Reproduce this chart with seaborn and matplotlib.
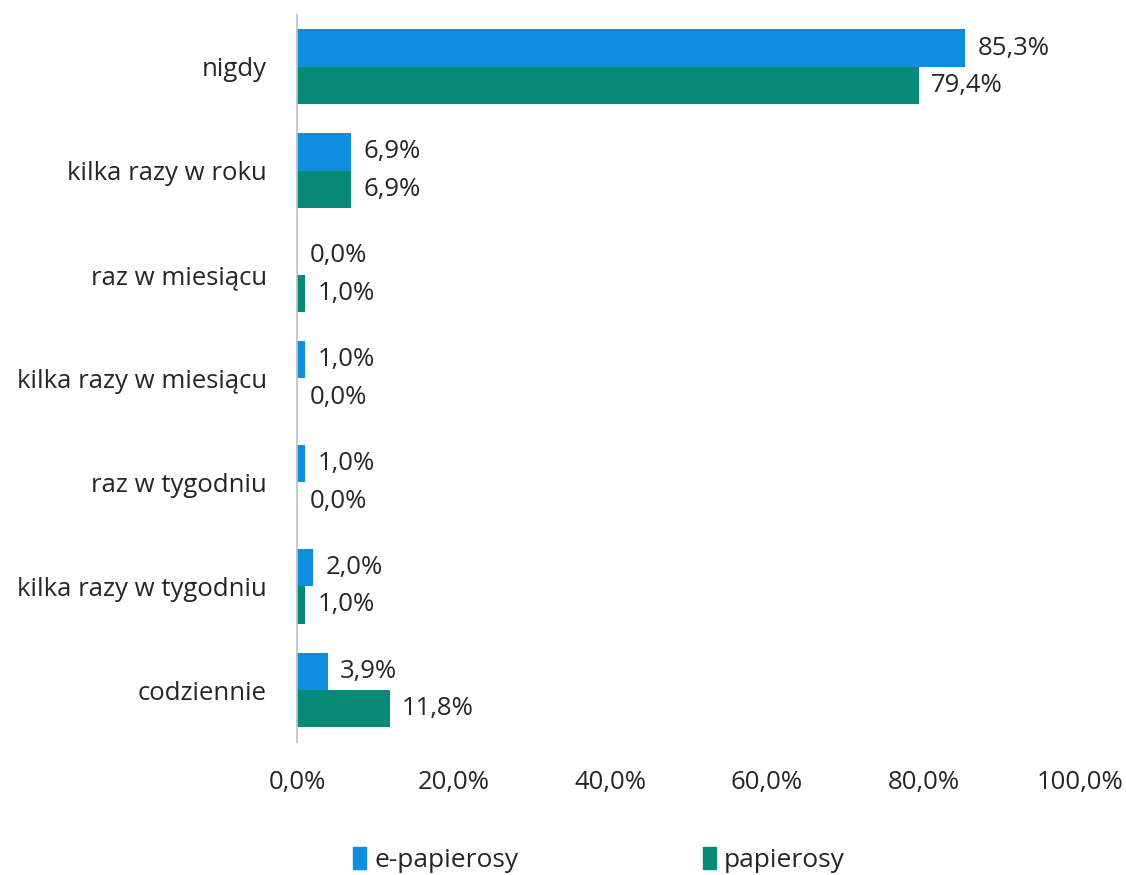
import matplotlib
matplotlib.use("Agg")
import matplotlib.pyplot as plt
import numpy as np
import pandas as pd
import seaborn as sns

categories = ["nigdy", "kilka razy w roku", "raz w miesiącu", "kilka razy w miesiącu",
              "raz w tygodniu", "kilka razy w tygodniu", "codziennie"]
e_papierosy = [85.3, 6.9, 0.0, 1.0, 1.0, 2.0, 3.9]
papierosy = [79.4, 6.9, 1.0, 0.0, 0.0, 1.0, 11.8]
series = ["e-papierosy", "papierosy"]
colors = ["#0F8DDF", "#078A78"]
xticks = [0, 20, 40, 60, 80, 100]

df = pd.DataFrame({
    "kategoria": categories * 2,
    "seria": [series[0]] * len(categories) + [series[1]] * len(categories),
    "wartosc": e_papierosy + papierosy,
})

sns.set_style("white")
plt.rcParams["font.family"] = ["Open Sans", "DejaVu Sans"]

fig = plt.figure(figsize=(11.26, 8.75), dpi=100)
ax = fig.add_axes([0.264, 0.152, 0.695, 0.831])

sns.barplot(data=df, y="kategoria", x="wartosc", hue="seria", orient="h",
            palette=colors, width=0.72, saturation=1, linewidth=0, ax=ax, legend=False)

for cont, vals in zip(ax.containers, [e_papierosy, papierosy]):
    labels = [f"{v:.1f}%".replace(".", ",") for v in vals]
    ax.bar_label(cont, labels=labels, padding=9, fontsize=18.5, color="#262626")

ax.set_xlim(0, 100)
ax.set_xticks(xticks)
ax.set_xticklabels([f"{t:.1f}%".replace(".", ",") for t in xticks], fontsize=18.5, color="#262626")
ax.tick_params(axis="x", length=0, pad=20)
ax.tick_params(axis="y", length=0, pad=22, labelsize=18.5, labelcolor="#262626")
ax.set_xlabel("")
ax.set_ylabel("")
for s in ["top", "right", "bottom"]:
    ax.spines[s].set_visible(False)
ax.spines["left"].set_color("#BFBFBF")
ax.spines["left"].set_linewidth(1.2)

handles = [plt.Rectangle((0, 0), 1, 1, color=c) for c in colors]
fig.legend(handles, series, loc="center", bbox_to_anchor=(0.532, 0.017), ncol=2,
           frameon=False, fontsize=19, handlelength=0.5, handleheight=0.9,
           handletextpad=0.3, columnspacing=7.0)

fig.savefig("out.png", dpi=100)
